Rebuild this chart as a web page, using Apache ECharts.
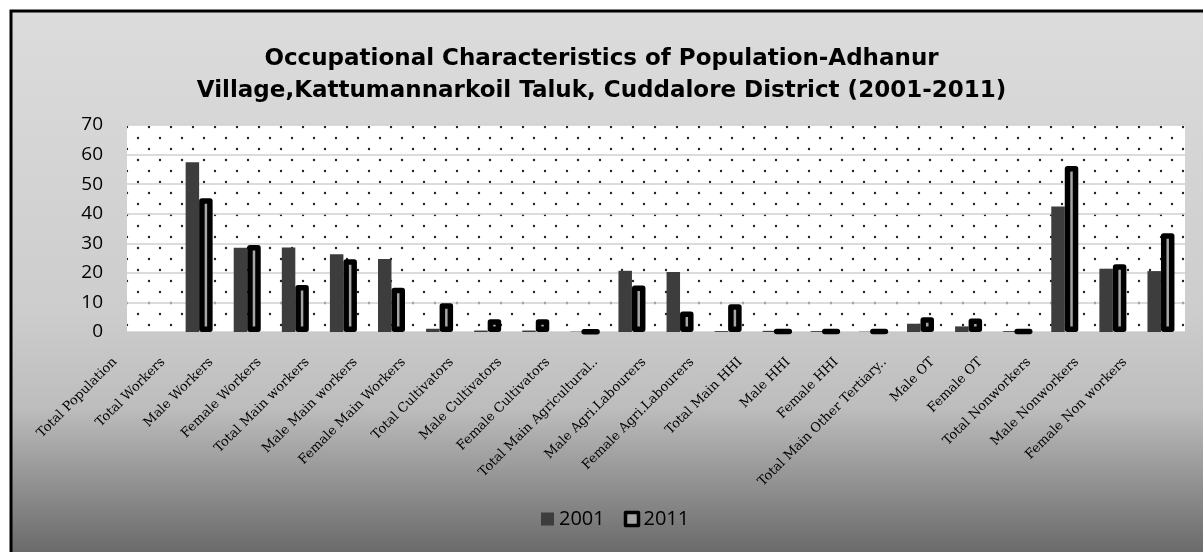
<!DOCTYPE html>
<html>
<head>
<meta charset="utf-8">
<script src="https://cdn.jsdelivr.net/npm/echarts@6/dist/echarts.min.js"></script>
<style>
html,body{margin:0;padding:0;background:#fff;}
#chart{width:1203px;height:552px;}
</style>
</head>
<body>
<div id="chart"></div>
<script>
const titleLines = ["Occupational Characteristics of Population-Adhanur", "Village,Kattumannarkoil Taluk, Cuddalore District (2001-2011)"];
const categories = ["Total Population","Total Workers","Male Workers","Female Workers","Total Main workers","Male Main workers","Female Main Workers","Total Cultivators","Male Cultivators","Female Cultivators","Total Main Agricultural..","Male Agri.Labourers","Female Agri.Labourers","Total Main HHI","Male HHI","Female HHI","Total Main Other Tertiary..","Male OT","Female OT","Total Nonworkers","Male Nonworkers","Female Non workers"];
const seriesNames = ["2001", "2011"];
const values2001 = [null, 57.4, 28.5, 28.6, 26.3, 24.7, 1.1, 0.5, 0.5, 0.1, 20.7, 20.3, 0.3, 0.4, 0.3, 0.1, 2.8, 1.9, 0.3, 42.4, 21.4, 20.6];
const values2011 = [null, 45.2, 29.4, 15.9, 24.6, 15.0, 9.7, 4.3, 4.3, 0.2, 15.7, 6.9, 9.4, 0.3, 0.3, 0.3, 5.0, 4.6, 0.3, 56.1, 22.9, 33.4];
const yTicks = [0, 10, 20, 30, 40, 50, 60, 70];

// dotted pattern tile
const tile = document.createElement('canvas');
tile.width = 22; tile.height = 22;
const tctx = tile.getContext('2d');
tctx.fillStyle = '#ffffff';
tctx.fillRect(0, 0, 22, 22);
tctx.fillStyle = '#222222';
tctx.beginPath(); tctx.arc(6, 6, 1.2, 0, Math.PI * 2); tctx.fill();
tctx.beginPath(); tctx.arc(17, 17, 1.2, 0, Math.PI * 2); tctx.fill();

const chart = echarts.init(document.getElementById('chart'), null, {renderer: 'canvas'});
chart.setOption({
  animation: false,
  backgroundColor: '#ffffff',
  graphic: [{
    type: 'rect', z: -100, silent: true,
    shape: {x: 11, y: 11, width: 1240, height: 600},
    style: {
      fill: {type: 'linear', x: 0, y: 0, x2: 0, y2: 1, global: false, colorStops: [
        {offset: 0, color: '#dcdcdc'},
        {offset: 0.5, color: '#cdcdcd'},
        {offset: 0.66, color: '#bdbdbd'},
        {offset: 0.9, color: '#6a6a6a'},
        {offset: 1, color: '#5a5a5a'}
      ]},
      stroke: '#000', lineWidth: 3
    }
  }],
  title: {
    text: titleLines.join('\n'),
    left: 'center', top: 38,
    textStyle: {fontFamily: 'DejaVu Sans', fontWeight: 'bold', fontSize: 23, color: '#000', lineHeight: 32}
  },
  legend: {
    data: [
      {name: seriesNames[0], itemStyle: {color: '#3d3d3d', borderWidth: 0}},
      {name: seriesNames[1], itemStyle: {color: '#a6a6a6', borderColor: '#000', borderWidth: 3.5}}
    ],
    bottom: 18, left: 536,
    icon: 'rect', itemWidth: 13, itemHeight: 13, itemGap: 19,
    textStyle: {fontFamily: 'Open Sans', fontSize: 20, color: '#000'}
  },
  grid: {
    left: 127, right: 18, top: 125, bottom: 220,
    show: true, borderWidth: 0,
    backgroundColor: {image: tile, repeat: 'repeat'}
  },
  xAxis: {
    type: 'category', data: categories,
    axisTick: {show: false},
    axisLine: {lineStyle: {color: '#c8c8c8', width: 1}},
    axisLabel: {interval: 0, rotate: 45, margin: -8, padding: [0, 51, 0, 0],
      fontFamily: 'DejaVu Serif', fontSize: 13, color: '#000'}
  },
  yAxis: {
    type: 'value', min: yTicks[0], max: yTicks[yTicks.length - 1], interval: 10,
    axisLine: {show: false}, axisTick: {show: false},
    axisLabel: {margin: 24, fontFamily: 'Open Sans', fontSize: 19, color: '#000'},
    splitLine: {lineStyle: {color: '#d0d0d0', width: 1.5}}
  },
  series: [
    {name: seriesNames[0], type: 'bar', data: values2001, barWidth: 13.5, barGap: '0%',
     itemStyle: {color: '#3d3d3d'}},
    {name: seriesNames[1], type: 'bar', data: values2011, barWidth: 13.5, barGap: '0%',
     itemStyle: {color: '#a6a6a6', borderColor: '#000', borderWidth: 5.5, borderJoin: 'round'}}
  ]
});
</script>
</body>
</html>
